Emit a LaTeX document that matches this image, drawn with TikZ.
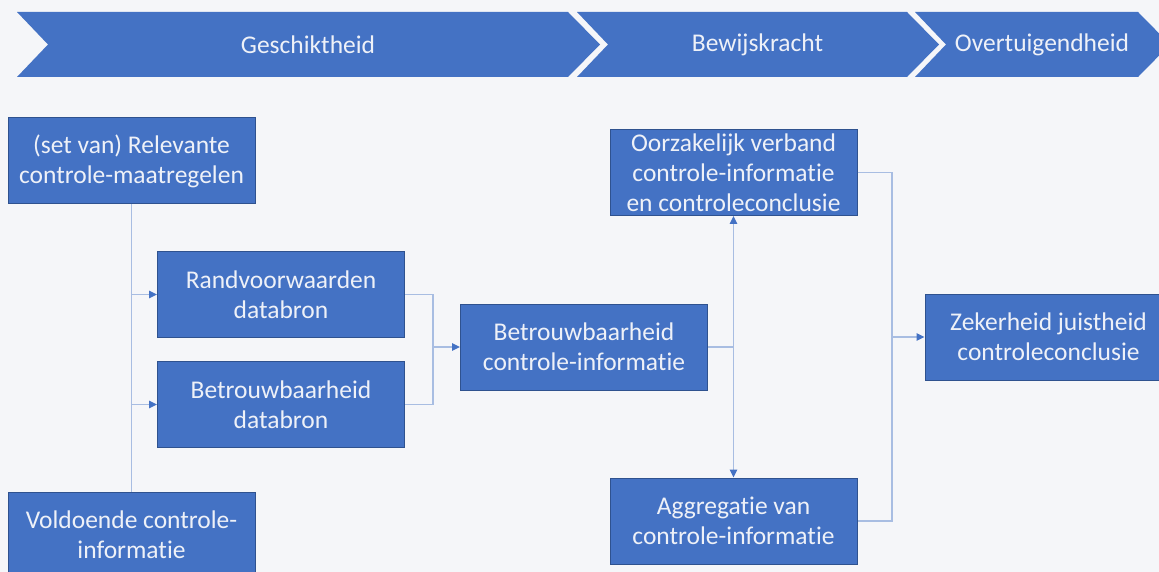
\documentclass[tikz,border=0pt]{standalone}
\usepackage{fontspec}
\setmainfont{Carlito}[Ligatures={NoCommon}]
\usepackage{tikz}
\usetikzlibrary{positioning,arrows.meta}

\definecolor{bgpage}{HTML}{F5F6F9}
\definecolor{chevblue}{HTML}{4472C4}
\definecolor{boxblue}{HTML}{4472C4}
\definecolor{boxedge}{HTML}{2F528F}
\definecolor{linkblue}{HTML}{A8BDE2}
\definecolor{paletext}{HTML}{EEF1F8}

\tikzset{
  box/.style={draw=boxedge, line width=1pt, fill=boxblue, text=paletext,
    minimum width=247pt, minimum height=86pt, inner sep=2pt, align=center,
    font=\fontsize{25.5}{30}\selectfont},
  conn/.style={draw=linkblue, line width=1.3pt},
  arr/.style={conn, -{Triangle[length=8pt,width=7.5pt,color=chevblue]}},
  phase/.style={text=paletext, font=\fontsize{25.5}{30}\selectfont}
}

\begin{document}
\begin{tikzpicture}[x=1pt, y=-1pt]
	\useasboundingbox (0,0) rectangle (1159,572);
	\fill[bgpage] (0,0) rectangle (1159,572);
	\clip (0,0) rectangle (1159,572);

	% phase arrows
	\foreach \xa/\xb/\lbl in {17/568/Geschiktheid, 577/907/Bewijskracht, 915/1138/Overtuigendheid} {
		\fill[chevblue] (\xa,12) -- (\xb,12) -- (\xb+32,44.5) -- (\xb,77)
			-- (\xa,77) -- (\xa+31,44.5) -- cycle;
		\node[phase] at ({(\xa+31+\xb)/2},44.5) {\lbl};
	}

	% blocks
	\node[box] (rel) at (131.5,161) {(set van) Relevante\\controle-maatregelen};
	\node[box, below=287pt of rel] (vold) {Voldoende controle-\\informatie};
	\node[box] (rand) at (281,294.5) {Randvoorwaarden\\databron};
	\node[box, below=23pt of rand] (betrdb) {Betrouwbaarheid\\databron};
	\node[box] (betrci) at (584,347) {Betrouwbaarheid\\controle-informatie};
	\node[box] (oorz) at (733.5,172.5) {Oorzakelijk verband\\controle-informatie\\en controleconclusie};
	\node[box] (aggr) at (733.5,521) {Aggregatie van\\controle-informatie};
	\node[box] (zek) at (1048.5,337) {Zekerheid juistheid\\controleconclusie};

	% junctions
	\coordinate (j1) at (433,347);
	\coordinate (j2) at (betrci.east -| oorz.south);
	\coordinate (j3) at (892,337);

	% links
	\draw[conn] (rel.south) -- (vold.north);
	\draw[arr] (rel.south |- rand.west) -- (rand.west);
	\draw[arr] (rel.south |- betrdb.west) -- (betrdb.west);
	\draw[conn] (rand.east) -| (j1) |- (betrdb.east);
	\draw[arr] (j1) -- (betrci.west);
	\draw[conn] (betrci.east) -- (j2);
	\draw[arr] (j2) -- (oorz.south);
	\draw[arr] (j2) -- (aggr.north);
	\draw[conn] (oorz.east) -| (j3) |- (aggr.east);
	\draw[arr] (j3) -- (zek.west);
\end{tikzpicture}
\end{document}
